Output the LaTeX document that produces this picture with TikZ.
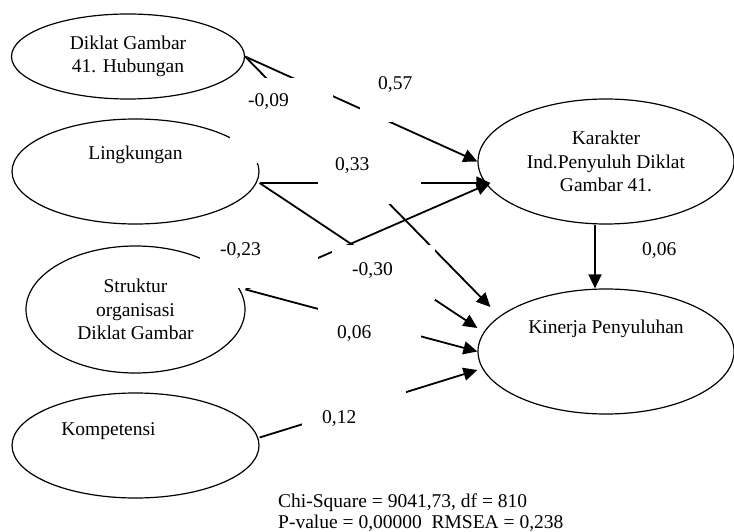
\documentclass[tikz,border=0pt]{standalone}
\usepackage{fontspec}
\setmainfont{Liberation Serif}
\usetikzlibrary{shapes.geometric,arrows.meta}

\begin{document}
\begin{tikzpicture}[x=1pt, y=-1pt]
	\tikzstyle{latent} = [ellipse, draw=black, line width=1.2pt, inner sep=0pt, align=center, font=\fontsize{19.5}{23.5}\selectfont]
	\tikzstyle{effect} = [-{Triangle[length=14pt, width=13pt]}, line width=1.8pt]
	\tikzstyle{coef} = [fill=white, anchor=north west, inner ysep=0pt, align=left, font=\fontsize{19.5}{23.5}\selectfont]

	\useasboundingbox (0,0) rectangle (734,532);

	\node [latent, minimum width=233pt, minimum height=85pt] (diklat) at (128,56.5) {Diklat Gambar\\41. Hubungan};

	\node [latent, below of=diklat, node distance=115pt, xshift=7.5pt, minimum width=247pt, minimum height=105pt, text height=13pt, text depth=36pt] (lingkungan) {Lingkungan};

	\node [latent, below of=lingkungan, node distance=138pt, minimum width=219pt, minimum height=127pt] (struktur) {Struktur\\organisasi\\Diklat Gambar};

	\node [latent, below of=struktur, node distance=136pt, minimum width=247pt, minimum height=105pt, text height=13pt, text depth=34pt] (kompetensi) {Kompetensi\hspace*{54pt}};

	\node [latent, right of=lingkungan, node distance=470.5pt, yshift=10pt, minimum width=256pt, minimum height=125pt] (karakter) {Karakter\\Ind.Penyuluh Diklat\\Gambar 41.};
	\draw [effect] (diklat.east) -- (karakter.west);
	\draw [effect] ([yshift=-11.5pt]lingkungan.east) -- ([xshift=13pt, yshift=-21.5pt]karakter.west);
	\draw [effect] ([yshift=20pt]struktur.east) -- ([xshift=13pt, yshift=-21.5pt]karakter.west);

	\node [latent, below of=karakter, node distance=190pt, minimum width=256pt, minimum height=125pt, text height=13pt, text depth=49pt] (kinerja) {Kinerja Penyuluhan};
	\draw [effect] (diklat.east) -- ([xshift=13pt, yshift=44.5pt]kinerja.west);
	\draw [effect] ([yshift=-11.5pt]lingkungan.east) -- ([yshift=23.5pt]kinerja.west);
	\draw [effect] ([yshift=20pt]struktur.east) -- (kinerja.west);
	\draw [effect] ([yshift=8pt]kompetensi.east) -- ([yshift=-18.5pt]kinerja.west);
	\draw [effect] ([xshift=-11pt]karakter.south) -- ([xshift=-11pt]kinerja.north);

	% coefficients
	\node [coef, text width=67pt, inner xsep=18pt, text height=28pt, text depth=57pt] (dk-kn) at (230,78) {-0,09};
	\node [coef, text width=44pt, inner xsep=18pt, text height=24pt, text depth=33pt] (dk-kr) at (360,65) {0,57};
	\node [coef, text width=69pt, inner xsep=17pt, text height=30pt, text depth=34pt] (lk-kr) at (318,140) {0,33};
	\node [coef, text width=78pt, inner xsep=20pt, text height=25pt, text depth=33pt] (st-kr) at (200,230) {-0,23};
	\node [coef, text width=63pt, inner xsep=20pt, text height=30pt, text depth=25pt] (lk-kn) at (332,245) {-0,30};
	\node [coef, text width=65pt, inner xsep=19pt, text height=35pt, text depth=42pt] (st-kn) at (318,303) {0,06};
	\node [coef, text width=64pt, inner xsep=20pt, text height=38pt, text depth=22pt] (km-kn) at (302,385) {0,12};
	\node [coef, text width=36pt, inner xsep=0pt, text height=20pt, text depth=5pt] (kr-kn) at (642,235) {0,06};

	\node [anchor=north west, inner sep=0pt, align=left, font=\fontsize{19.5}{21}\selectfont] (fit) at (278,493.7) {Chi-Square = 9041,73, df = 810\\P-value = 0,00000\ \ RMSEA = 0,238};
\end{tikzpicture}
\end{document}
